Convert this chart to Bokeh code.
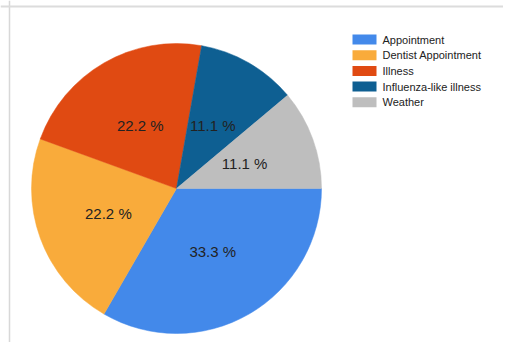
import numpy as np
from bokeh.plotting import figure
from bokeh.models import Range1d, ColumnDataSource, Span
from bokeh.core.properties import value
from bokeh.embed import file_html
from bokeh.resources import INLINE

categories = ["Appointment", "Dentist Appointment", "Illness", "Influenza-like illness", "Weather"]
counts = [3, 2, 2, 1, 1]
colors = ["#4389ea", "#f9ab3b", "#e04a12", "#0e5f92", "#bebebe"]

W, H = 503, 342
p = figure(width=W, height=H, output_backend="svg", toolbar_location=None,
           x_range=Range1d(0, W), y_range=Range1d(0, H), min_border=0)
p.axis.visible = False
p.grid.visible = False
p.outline_line_color = None
p.background_fill_color = "white"

p.add_layout(Span(location=9, dimension="height", line_color="#d8d8d8", line_width=1.5))
p.add_layout(Span(location=H - 6, dimension="width", line_color="#dcdcdc", line_width=2))

total = sum(counts)
frac = np.array(counts) / total
cum = np.concatenate([[0], np.cumsum(frac)])
start = -cum[:-1] * 2 * np.pi
end = -cum[1:] * 2 * np.pi
mid = (start + end) / 2

cx, cy, r = 176, 154, 145
src = ColumnDataSource(dict(start=start, end=end, color=colors))
p.wedge(x=cx, y=cy, radius=r, radius_units="screen", start_angle="start", end_angle="end",
        direction="clock", fill_color="color", line_color="color", line_width=0.5, source=src)

lr = 0.5 * r
labels = [f"{f*100:.1f} %" for f in frac]
p.text(x=cx + lr * np.cos(mid), y=cy + lr * np.sin(mid), text=labels,
       text_font=value("Liberation Sans"), text_font_size="15px", text_color="#222222",
       text_align="center", text_baseline="middle")

# legend
ly = 303 - np.arange(len(categories)) * 15.7
p.rect(x=364, y=ly, width=24, height=10, fill_color=colors, line_color=None)
p.text(x=382, y=ly, text=categories, text_font=value("Liberation Sans"), text_font_size="11px",
       text_color="#222222", text_baseline="middle")

open("out.html", "w").write(file_html(p, INLINE))
